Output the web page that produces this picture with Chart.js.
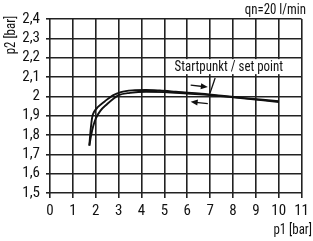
<!DOCTYPE html>
<html>
<head>
<meta charset="utf-8">
<script src="https://cdn.jsdelivr.net/npm/chart.js@4/dist/chart.umd.min.js"></script>
<style>
  html, body { margin: 0; padding: 0; background: #fff; }
</style>
</head>
<body>
<canvas id="chart" width="313" height="241"></canvas>
<script>
const FONT = "'Roboto Condensed', 'Liberation Sans Narrow', 'Liberation Sans', sans-serif";
const FS = 15;

// branch going up (outer curve)
const upP1 = [1.72, 1.78, 1.85, 1.93, 2.1, 2.4, 2.75, 3.1, 3.6, 4.2, 4.8, 5.5, 6.5, 7.5, 8.5, 9.3, 10.0];
const upP2 = [1.745, 1.83, 1.895, 1.92, 1.945, 1.975, 2.005, 2.022, 2.031, 2.033, 2.03, 2.024, 2.015, 2.003, 1.991, 1.982, 1.975];

// branch coming back (inner curve)
const downP1 = [1.72, 1.8, 1.9, 2.0, 2.2, 2.5, 2.8, 3.0, 3.5, 4.2, 5.0, 6.0, 7.0, 8.0, 9.0, 10.0];
const downP2 = [1.745, 1.8, 1.85, 1.885, 1.925, 1.96, 1.99, 2.006, 2.018, 2.024, 2.022, 2.014, 2.006, 1.995, 1.983, 1.971];

const yTickLabels = ['1,5', '1,6', '1,7', '1,8', '1,9', '2', '2,1', '2,2', '2,3', '2,4'];
const xTickLabels = ['0', '1', '2', '3', '4', '5', '6', '7', '8', '9', '10', '11'];

const toPts = (xs, ys) => xs.map((x, i) => ({ x, y: ys[i] }));

// annotation positions in data units
const arrowRight = [[6.15, 2.058], [6.9, 2.048]];
const arrowLeft  = [[6.9, 1.962], [6.15, 1.972]];
const leader     = [[7.22, 2.095], [7.0, 2.018]];
const setLabel   = { x: 7.82, y: 2.151, text: 'Startpunkt / set point' };

function arrow(ctx, x1, y1, x2, y2) {
  const a = Math.atan2(y2 - y1, x2 - x1);
  ctx.beginPath();
  ctx.moveTo(x1, y1);
  ctx.lineTo(x2 - 5 * Math.cos(a), y2 - 5 * Math.sin(a));
  ctx.stroke();
  ctx.beginPath();
  ctx.moveTo(x2, y2);
  ctx.lineTo(x2 - 7 * Math.cos(a) + 3 * Math.sin(a), y2 - 7 * Math.sin(a) - 3 * Math.cos(a));
  ctx.lineTo(x2 - 7 * Math.cos(a) - 3 * Math.sin(a), y2 - 7 * Math.sin(a) + 3 * Math.cos(a));
  ctx.closePath();
  ctx.fill();
}

// narrow text, the original uses a condensed face
function narrowText(ctx, text, x, y, align) {
  const sx = 0.86;
  ctx.save();
  ctx.translate(x, y);
  ctx.scale(sx, 1);
  ctx.textAlign = align;
  ctx.fillText(text, 0, 0);
  ctx.restore();
}

const notes = {
  id: 'notes',
  afterDraw(chart) {
    const { ctx, scales: { x, y } } = chart;
    const px = p => [x.getPixelForValue(p[0]), y.getPixelForValue(p[1])];
    ctx.save();
    ctx.strokeStyle = '#111';
    ctx.fillStyle = '#111';
    ctx.lineWidth = 1.3;

    let [a, b] = [px(arrowRight[0]), px(arrowRight[1])];
    arrow(ctx, a[0], a[1], b[0], b[1]);
    [a, b] = [px(arrowLeft[0]), px(arrowLeft[1])];
    arrow(ctx, a[0], a[1], b[0], b[1]);

    [a, b] = [px(leader[0]), px(leader[1])];
    ctx.beginPath();
    ctx.moveTo(a[0], a[1]);
    ctx.lineTo(b[0], b[1]);
    ctx.stroke();

    ctx.font = FS + 'px ' + FONT;
    ctx.textBaseline = 'middle';
    const lp = px([setLabel.x, setLabel.y]);
    // white backing so grid lines don't run through the text
    const tw = ctx.measureText(setLabel.text).width * 0.86;
    ctx.fillStyle = '#fff';
    ctx.fillRect(lp[0] - tw / 2 - 1, lp[1] - 8, tw + 2, 15);
    ctx.fillStyle = '#111';
    narrowText(ctx, setLabel.text, lp[0], lp[1], 'center');

    narrowText(ctx, 'qn=20 l/min', 306, 10, 'right');
    narrowText(ctx, 'p1 [bar]', 312, 230, 'right');

    ctx.translate(11, 35);
    ctx.rotate(-Math.PI / 2);
    narrowText(ctx, 'p2 [bar]', 0, 0, 'center');
    ctx.restore();
  }
};

const line = (pts) => ({
  data: pts,
  showLine: true,
  borderColor: '#111',
  borderWidth: 1.9,
  pointRadius: 0,
  cubicInterpolationMode: 'monotone',
  fill: false,
});

new Chart(document.getElementById('chart'), {
  type: 'scatter',
  data: {
    datasets: [line(toPts(upP1, upP2)), line(toPts(downP1, downP2))],
  },
  options: {
    responsive: false,
    animation: false,
    layout: { padding: { top: 19, right: 7, left: 0, bottom: 0 } },
    plugins: { legend: { display: false }, tooltip: { enabled: false } },
    scales: {
      x: {
        type: 'linear',
        min: 0, max: 11,
        ticks: {
          stepSize: 1, autoSkip: false, color: '#111', font: { family: FONT, size: FS }, padding: 4, maxRotation: 0,
          callback: (v, i) => xTickLabels[i],
        },
        grid: { color: '#222', lineWidth: 1.6, tickLength: 5, tickColor: '#222' },
        border: { display: false },
        afterFit: s => { s.height = 48; },
      },
      y: {
        min: 1.5, max: 2.4,
        ticks: {
          stepSize: 0.1, autoSkip: false, color: '#111', font: { family: FONT, size: FS }, padding: 6,
          callback: (v, i) => yTickLabels[i],
        },
        grid: { color: '#222', lineWidth: 1.6, tickLength: 4, tickColor: '#222' },
        border: { display: false },
        afterFit: s => { s.width = 50; },
      },
    },
  },
  plugins: [notes],
});
</script>
</body>
</html>
